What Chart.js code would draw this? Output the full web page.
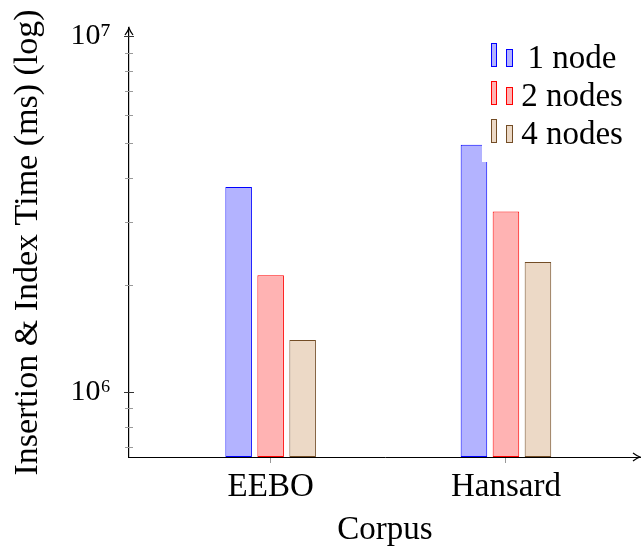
<!DOCTYPE html>
<html><head><meta charset="utf-8">
<script src="https://cdn.jsdelivr.net/npm/chart.js@4/dist/chart.umd.min.js"></script>
<style>html,body{margin:0;padding:0;background:#fff}</style>
</head><body>
<canvas id="c" width="641" height="550"></canvas>
<script>
const categories = ['EEBO', 'Hansard'];
const seriesNames = ['1 node', '2 nodes', '4 nodes'];
const oneNode = [3.77e6, 4.96e6];
const twoNodes = [2.13e6, 3.22e6];
const fourNodes = [1.40e6, 2.32e6];
const yMajorTicks = [1e6, 1e7];
const yTickLabels = ['10\u2076', '10\u2077'];
const yMinorTicks = [7e5, 8e5, 9e5, 2e6, 3e6, 4e6, 5e6, 6e6, 7e6, 8e6, 9e6];
const xAxisTitle = 'Corpus';
const yAxisTitle = 'Insertion & Index Time (ms) (log)';

const FONT = '"Liberation Serif", "Times New Roman", serif';
const borders = ['#0000ff', '#ff0000', '#734d26'];
const fills = ['#b3b3ff', '#ffb3b3', '#ecd9c6'];
const seriesValues = [oneNode, twoNodes, fourNodes];

const datasets = seriesValues.map((vals, i) => ({
  label: seriesNames[i],
  data: vals.map((v, j) => ({ x: j, y: v })),
  backgroundColor: fills[i],
  borderColor: borders[i],
  borderWidth: 1,
  borderSkipped: false,
  categoryPercentage: 0.408,
  barPercentage: 0.83
}));

const decorPlugin = {
  id: 'decor',
  afterDraw(chart) {
    const ctx = chart.ctx;
    const ys = chart.scales.y, ca = chart.chartArea;
    const L = ca.left, B = ca.bottom;
    ctx.save();
    ctx.lineWidth = 1;
    ctx.strokeStyle = '#999';
    yMinorTicks.forEach(v => {
      const y = Math.round(ys.getPixelForValue(v)) + 0.5;
      ctx.beginPath(); ctx.moveTo(L - 4, y); ctx.lineTo(L + 4, y); ctx.stroke();
    });
    ctx.strokeStyle = '#333';
    yMajorTicks.forEach(v => {
      const y = Math.round(ys.getPixelForValue(v)) + 0.5;
      ctx.beginPath(); ctx.moveTo(L - 5, y); ctx.lineTo(L + 5, y); ctx.stroke();
    });
    ctx.strokeStyle = '#000';
    ctx.lineWidth = 1.2;
    ctx.beginPath();
    ctx.moveTo(L - 4, ca.top + 7); ctx.quadraticCurveTo(L - 1, ca.top + 3, L, ca.top);
    ctx.quadraticCurveTo(L + 1, ca.top + 3, L + 4, ca.top + 7);
    ctx.stroke();
    const R = ca.right - 1;
    ctx.beginPath();
    ctx.moveTo(R - 7, B - 4); ctx.quadraticCurveTo(R - 3, B - 1, R, B);
    ctx.quadraticCurveTo(R - 3, B + 1, R - 7, B + 4);
    ctx.stroke();
    ctx.fillStyle = '#fff';
    ctx.fillRect(482, 30, 159, 132);
    chart.data.datasets.forEach((ds, i) => {
      const cy = 55 + i * 38;
      ctx.fillStyle = ds.backgroundColor;
      ctx.strokeStyle = ds.borderColor;
      ctx.lineWidth = 1;
      ctx.fillRect(491, cy - 12, 6, 24);
      ctx.strokeRect(491.5, cy - 11.5, 5, 23);
      ctx.fillRect(506, cy - 6, 7, 18);
      ctx.strokeRect(506.5, cy - 5.5, 6, 17);
      ctx.fillStyle = '#000';
      ctx.font = '33px ' + FONT;
      ctx.textAlign = 'center';
      ctx.textBaseline = 'alphabetic';
      ctx.fillText(ds.label, 572, cy + 13);
    });
    ctx.restore();
  }
};

new Chart(document.getElementById('c'), {
  type: 'bar',
  data: { datasets },
  options: {
    responsive: false,
    animation: false,
    layout: { padding: { top: 28, right: 0, left: 0, bottom: 0 } },
    plugins: { legend: { display: false }, tooltip: { enabled: false } },
    scales: {
      x: {
        type: 'linear',
        offset: false,
        min: -0.602,
        max: 1.574,
        afterBuildTicks: s => { s.ticks = categories.map((c, i) => ({ value: i })); },
        afterFit: s => { s.height = 93; s.paddingLeft = 0; s.paddingRight = 0; },
        ticks: {
          callback: v => categories[v] !== undefined ? categories[v] : '',
          font: { family: FONT, size: 33 },
          color: '#000',
          padding: 5,
          maxRotation: 0,
          autoSkip: false
        },
        grid: { display: true, offset: false, drawOnChartArea: false, drawTicks: true, tickLength: 6, color: '#999' },
        border: { display: true, color: '#000', width: 1 },
        title: { display: true, text: xAxisTitle, font: { family: FONT, size: 33 }, color: '#000', padding: { top: 0, bottom: 0 } }
      },
      y: {
        type: 'logarithmic',
        min: 6.57e5,
        max: 1.055e7,
        afterBuildTicks: s => { s.ticks = yMajorTicks.map(v => ({ value: v, major: true })); },
        afterFit: s => { s.width = 129; s.paddingTop = 0; s.paddingBottom = 0; },
        ticks: {
          callback: v => { const k = yMajorTicks.indexOf(v); return k >= 0 ? yTickLabels[k] : ''; },
          font: { family: FONT, size: 30 },
          color: '#000',
          padding: 18,
          autoSkip: false
        },
        grid: { display: false, drawTicks: false },
        border: { display: true, color: '#000', width: 1.2 },
        title: { display: true, text: yAxisTitle, font: { family: FONT, size: 34 }, color: '#000', padding: { top: 8, bottom: 0 } }
      }
    }
  },
  plugins: [decorPlugin]
});
</script>
</body></html>
